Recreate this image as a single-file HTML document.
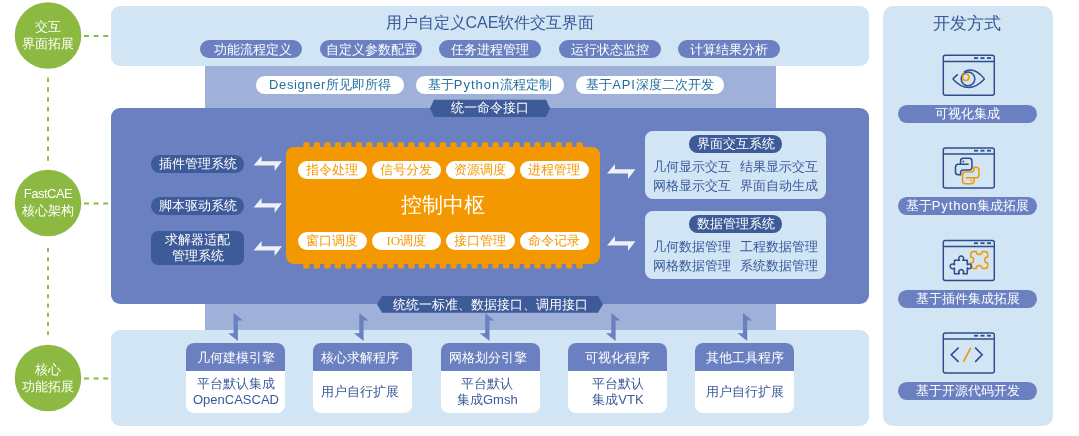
<!DOCTYPE html><html><head><meta charset="utf-8"><style>
html,body{margin:0;padding:0;background:#fff;}
body{width:1079px;height:436px;position:relative;overflow:hidden;font-family:"Liberation Sans",sans-serif;}
.t{position:absolute;text-align:center;white-space:nowrap;will-change:transform;}
svg{position:absolute;left:0;top:0;}
</style></head><body>
<div style="position:absolute;left:111px;top:5.5px;width:758px;height:60.5px;background:#d1e5f5;border-radius:9px;"></div>
<div style="position:absolute;left:205px;top:66px;width:570.5px;height:42px;background:#9fb1d8;border-radius:0px;"></div>
<div style="position:absolute;left:111px;top:108px;width:758px;height:196.3px;background:#6a80c1;border-radius:9px;"></div>
<div style="position:absolute;left:205px;top:304px;width:570.5px;height:26px;background:#9fb1d8;border-radius:0px;"></div>
<div style="position:absolute;left:111px;top:330px;width:758px;height:96px;background:#d1e5f5;border-radius:9px;"></div>
<div style="position:absolute;left:883px;top:5.5px;width:170px;height:420px;background:#d1e5f5;border-radius:10px;"></div>
<div class="t" style="left:111px;top:8px;width:758px;height:30px;line-height:30px;font-size:16px;color:#3a5998;">用户自定义CAE软件交互界面</div>
<div class="t" style="left:200.0px;top:40px;width:102px;height:18px;line-height:18px;font-size:13px;color:#fff;background:#6a80c1;border-radius:9.0px;line-height:20px;text-indent:4px;">功能流程定义</div>
<div class="t" style="left:319.5px;top:40px;width:102px;height:18px;line-height:18px;font-size:13px;color:#fff;background:#6a80c1;border-radius:9.0px;line-height:20px;">自定义参数配置</div>
<div class="t" style="left:439.0px;top:40px;width:102px;height:18px;line-height:18px;font-size:13px;color:#fff;background:#6a80c1;border-radius:9.0px;line-height:20px;">任务进程管理</div>
<div class="t" style="left:558.5px;top:40px;width:102px;height:18px;line-height:18px;font-size:13px;color:#fff;background:#6a80c1;border-radius:9.0px;line-height:20px;">运行状态监控</div>
<div class="t" style="left:678.0px;top:40px;width:102px;height:18px;line-height:18px;font-size:13px;color:#fff;background:#6a80c1;border-radius:9.0px;line-height:20px;">计算结果分析</div>
<div class="t" style="left:256px;top:75.5px;width:148px;height:17.7px;line-height:17.7px;font-size:13px;color:#1f6fa0;background:#fff;border-radius:8.85px;"><span style="letter-spacing:0.6px">Designer</span>所见即所得</div>
<div class="t" style="left:416px;top:75.5px;width:148px;height:17.7px;line-height:17.7px;font-size:13px;color:#1f6fa0;background:#fff;border-radius:8.85px;">基于<span style="letter-spacing:1px">Python</span>流程定制</div>
<div class="t" style="left:576px;top:75.5px;width:148px;height:17.7px;line-height:17.7px;font-size:13px;color:#1f6fa0;background:#fff;border-radius:8.85px;">基于<span style="letter-spacing:0.9px">API</span>深度二次开发</div>
<div class="t" style="left:151px;top:154.6px;width:93px;height:17.5px;line-height:17.5px;font-size:13px;color:#fff;background:#3d5a99;border-radius:8.75px;">插件管理系统</div>
<div class="t" style="left:151px;top:196.5px;width:93px;height:17.8px;line-height:17.8px;font-size:13px;color:#fff;background:#3d5a99;border-radius:8.9px;">脚本驱动系统</div>
<div class="t" style="left:151px;top:231px;width:93px;height:34px;line-height:16px;font-size:13px;color:#fff;background:#3d5a99;border-radius:7px;padding-top:1px;box-sizing:border-box;">求解器适配<br>管理系统</div>
<div style="position:absolute;left:645.2px;top:131px;width:181px;height:68px;background:#d1e5f5;border-radius:8px;"></div>
<div class="t" style="left:689.2px;top:135.1px;width:93px;height:17.6px;line-height:17.6px;font-size:13px;color:#fff;background:#3d5a99;border-radius:8.8px;">界面交互系统</div>
<div class="t" style="left:650px;top:157px;width:84px;height:19px;line-height:19px;font-size:13px;color:#3a5998;">几何显示交互</div>
<div class="t" style="left:737px;top:157px;width:84px;height:19px;line-height:19px;font-size:13px;color:#3a5998;">结果显示交互</div>
<div class="t" style="left:650px;top:175.5px;width:84px;height:19px;line-height:19px;font-size:13px;color:#3a5998;">网格显示交互</div>
<div class="t" style="left:737px;top:175.5px;width:84px;height:19px;line-height:19px;font-size:13px;color:#3a5998;">界面自动生成</div>
<div style="position:absolute;left:645.2px;top:211px;width:181px;height:68px;background:#d1e5f5;border-radius:8px;"></div>
<div class="t" style="left:689.2px;top:215.1px;width:93px;height:17.6px;line-height:17.6px;font-size:13px;color:#fff;background:#3d5a99;border-radius:8.8px;">数据管理系统</div>
<div class="t" style="left:650px;top:237px;width:84px;height:19px;line-height:19px;font-size:13px;color:#3a5998;">几何数据管理</div>
<div class="t" style="left:737px;top:237px;width:84px;height:19px;line-height:19px;font-size:13px;color:#3a5998;">工程数据管理</div>
<div class="t" style="left:650px;top:255.5px;width:84px;height:19px;line-height:19px;font-size:13px;color:#3a5998;">网格数据管理</div>
<div class="t" style="left:737px;top:255.5px;width:84px;height:19px;line-height:19px;font-size:13px;color:#3a5998;">系统数据管理</div>
<svg width="1079" height="436" viewBox="0 0 1079 436">
<g stroke="#8cb941" stroke-width="1.9" fill="none">
<line x1="48" y1="77.5" x2="48" y2="161" stroke-dasharray="4.5 5.35"/>
<line x1="48" y1="248" x2="48" y2="335" stroke-dasharray="4 5.26"/>
</g>
<g stroke="#8cb941" stroke-width="1.9" stroke-dasharray="5 4.6" fill="none">
<line x1="84" y1="36" x2="110" y2="36"/>
<line x1="84" y1="203.5" x2="110" y2="203.5"/>
<line x1="84" y1="378.5" x2="110" y2="378.5"/>
</g>
<circle cx="48" cy="35.5" r="33.3" fill="#8cb941"/>
<circle cx="48" cy="203" r="33.3" fill="#8cb941"/>
<circle cx="48" cy="378" r="33.3" fill="#8cb941"/>
<polygon fill="#3d5a99" points="430,108.35 434,99.8 546,99.8 550,108.35 546,116.9 434,116.9"/>
<polygon fill="#3d5a99" points="377,304.35 382,296 598,296 603,304.35 598,312.7 382,312.7"/>
<polygon fill="#eef1f8" points="253.6,165.5 261.6,156.0 261.6,161.3 282.0,161.3 274.6,171.0 274.6,165.5"/>
<polygon fill="#eef1f8" points="253.6,207.5 261.6,198.0 261.6,203.3 282.0,203.3 274.6,213.0 274.6,207.5"/>
<polygon fill="#eef1f8" points="253.6,250.5 261.6,241.0 261.6,246.3 282.0,246.3 274.6,256.0 274.6,250.5"/>
<polygon fill="#eef1f8" points="607.0,173.5 615.0,164.0 615.0,169.3 635.4,169.3 628.0,179.0 628.0,173.5"/>
<polygon fill="#eef1f8" points="607.0,245.5 615.0,236.0 615.0,241.3 635.4,241.3 628.0,251.0 628.0,245.5"/>
<polygon fill="#6a80c1" points="233.6,313.0 242.9,320.6 237.9,320.6 237.9,341.0 228.2,333.3 233.6,333.3"/>
<polygon fill="#6a80c1" points="359.3,313.0 368.6,320.6 363.6,320.6 363.6,341.0 353.9,333.3 359.3,333.3"/>
<polygon fill="#6a80c1" points="485.2,313.0 494.5,320.6 489.5,320.6 489.5,341.0 479.8,333.3 485.2,333.3"/>
<polygon fill="#6a80c1" points="611.3,313.0 620.6,320.6 615.6,320.6 615.6,341.0 605.9,333.3 611.3,333.3"/>
<polygon fill="#6a80c1" points="742.9,313.0 752.2,320.6 747.2,320.6 747.2,341.0 737.5,333.3 742.9,333.3"/>
<rect x="286" y="147" width="314" height="117" rx="8" fill="#f39800"/>
<rect x="303.20" y="142.2" width="6.3" height="8" rx="1.5" fill="#f39800"/>
<rect x="303.20" y="260.5" width="6.3" height="8" rx="1.5" fill="#f39800"/>
<rect x="313.71" y="142.2" width="6.3" height="8" rx="1.5" fill="#f39800"/>
<rect x="313.71" y="260.5" width="6.3" height="8" rx="1.5" fill="#f39800"/>
<rect x="324.22" y="142.2" width="6.3" height="8" rx="1.5" fill="#f39800"/>
<rect x="324.22" y="260.5" width="6.3" height="8" rx="1.5" fill="#f39800"/>
<rect x="334.72" y="142.2" width="6.3" height="8" rx="1.5" fill="#f39800"/>
<rect x="334.72" y="260.5" width="6.3" height="8" rx="1.5" fill="#f39800"/>
<rect x="345.23" y="142.2" width="6.3" height="8" rx="1.5" fill="#f39800"/>
<rect x="345.23" y="260.5" width="6.3" height="8" rx="1.5" fill="#f39800"/>
<rect x="355.74" y="142.2" width="6.3" height="8" rx="1.5" fill="#f39800"/>
<rect x="355.74" y="260.5" width="6.3" height="8" rx="1.5" fill="#f39800"/>
<rect x="366.25" y="142.2" width="6.3" height="8" rx="1.5" fill="#f39800"/>
<rect x="366.25" y="260.5" width="6.3" height="8" rx="1.5" fill="#f39800"/>
<rect x="376.76" y="142.2" width="6.3" height="8" rx="1.5" fill="#f39800"/>
<rect x="376.76" y="260.5" width="6.3" height="8" rx="1.5" fill="#f39800"/>
<rect x="387.26" y="142.2" width="6.3" height="8" rx="1.5" fill="#f39800"/>
<rect x="387.26" y="260.5" width="6.3" height="8" rx="1.5" fill="#f39800"/>
<rect x="397.77" y="142.2" width="6.3" height="8" rx="1.5" fill="#f39800"/>
<rect x="397.77" y="260.5" width="6.3" height="8" rx="1.5" fill="#f39800"/>
<rect x="408.28" y="142.2" width="6.3" height="8" rx="1.5" fill="#f39800"/>
<rect x="408.28" y="260.5" width="6.3" height="8" rx="1.5" fill="#f39800"/>
<rect x="418.79" y="142.2" width="6.3" height="8" rx="1.5" fill="#f39800"/>
<rect x="418.79" y="260.5" width="6.3" height="8" rx="1.5" fill="#f39800"/>
<rect x="429.30" y="142.2" width="6.3" height="8" rx="1.5" fill="#f39800"/>
<rect x="429.30" y="260.5" width="6.3" height="8" rx="1.5" fill="#f39800"/>
<rect x="439.80" y="142.2" width="6.3" height="8" rx="1.5" fill="#f39800"/>
<rect x="439.80" y="260.5" width="6.3" height="8" rx="1.5" fill="#f39800"/>
<rect x="450.31" y="142.2" width="6.3" height="8" rx="1.5" fill="#f39800"/>
<rect x="450.31" y="260.5" width="6.3" height="8" rx="1.5" fill="#f39800"/>
<rect x="460.82" y="142.2" width="6.3" height="8" rx="1.5" fill="#f39800"/>
<rect x="460.82" y="260.5" width="6.3" height="8" rx="1.5" fill="#f39800"/>
<rect x="471.33" y="142.2" width="6.3" height="8" rx="1.5" fill="#f39800"/>
<rect x="471.33" y="260.5" width="6.3" height="8" rx="1.5" fill="#f39800"/>
<rect x="481.84" y="142.2" width="6.3" height="8" rx="1.5" fill="#f39800"/>
<rect x="481.84" y="260.5" width="6.3" height="8" rx="1.5" fill="#f39800"/>
<rect x="492.34" y="142.2" width="6.3" height="8" rx="1.5" fill="#f39800"/>
<rect x="492.34" y="260.5" width="6.3" height="8" rx="1.5" fill="#f39800"/>
<rect x="502.85" y="142.2" width="6.3" height="8" rx="1.5" fill="#f39800"/>
<rect x="502.85" y="260.5" width="6.3" height="8" rx="1.5" fill="#f39800"/>
<rect x="513.36" y="142.2" width="6.3" height="8" rx="1.5" fill="#f39800"/>
<rect x="513.36" y="260.5" width="6.3" height="8" rx="1.5" fill="#f39800"/>
<rect x="523.87" y="142.2" width="6.3" height="8" rx="1.5" fill="#f39800"/>
<rect x="523.87" y="260.5" width="6.3" height="8" rx="1.5" fill="#f39800"/>
<rect x="534.38" y="142.2" width="6.3" height="8" rx="1.5" fill="#f39800"/>
<rect x="534.38" y="260.5" width="6.3" height="8" rx="1.5" fill="#f39800"/>
<rect x="544.88" y="142.2" width="6.3" height="8" rx="1.5" fill="#f39800"/>
<rect x="544.88" y="260.5" width="6.3" height="8" rx="1.5" fill="#f39800"/>
<rect x="555.39" y="142.2" width="6.3" height="8" rx="1.5" fill="#f39800"/>
<rect x="555.39" y="260.5" width="6.3" height="8" rx="1.5" fill="#f39800"/>
<rect x="565.90" y="142.2" width="6.3" height="8" rx="1.5" fill="#f39800"/>
<rect x="565.90" y="260.5" width="6.3" height="8" rx="1.5" fill="#f39800"/>
<rect x="576.41" y="142.2" width="6.3" height="8" rx="1.5" fill="#f39800"/>
<rect x="576.41" y="260.5" width="6.3" height="8" rx="1.5" fill="#f39800"/>
</svg>
<div class="t" style="left:15px;top:19px;width:66px;font-size:13px;line-height:16.5px;color:#fff">交互<br>界面拓展</div>
<div class="t" style="left:15px;top:186px;width:66px;font-size:13px;line-height:16.5px;color:#fff"><span style="letter-spacing:-0.5px">FastCAE</span><br>核心架构</div>
<div class="t" style="left:15px;top:362px;width:66px;font-size:13px;line-height:16.5px;color:#fff">核心<br>功能拓展</div>
<div class="t" style="left:430px;top:98.8px;width:120px;height:17px;line-height:17px;font-size:13px;color:#fff;">统一命令接口</div>
<div class="t" style="left:377px;top:296px;width:226px;height:17px;line-height:17px;font-size:13px;color:#fff;">统统一标准、数据接口、调用接口</div>
<div class="t" style="left:297.5px;top:161px;width:68.5px;height:18px;line-height:18px;font-size:13px;color:#f39800;background:#fff;border-radius:9.0px;">指令处理</div>
<div class="t" style="left:371.7px;top:161px;width:68.5px;height:18px;line-height:18px;font-size:13px;color:#f39800;background:#fff;border-radius:9.0px;">信号分发</div>
<div class="t" style="left:445.9px;top:161px;width:68.5px;height:18px;line-height:18px;font-size:13px;color:#f39800;background:#fff;border-radius:9.0px;">资源调度</div>
<div class="t" style="left:520.1px;top:161px;width:68.5px;height:18px;line-height:18px;font-size:13px;color:#f39800;background:#fff;border-radius:9.0px;">进程管理</div>
<div class="t" style="left:297.5px;top:232px;width:68.5px;height:18px;line-height:18px;font-size:13px;color:#f39800;background:#fff;border-radius:9.0px;">窗口调度</div>
<div class="t" style="left:371.7px;top:232px;width:68.5px;height:18px;line-height:18px;font-size:13px;color:#f39800;background:#fff;border-radius:9.0px;"><span style="font-family:Liberation Serif">IO</span>调度</div>
<div class="t" style="left:445.9px;top:232px;width:68.5px;height:18px;line-height:18px;font-size:13px;color:#f39800;background:#fff;border-radius:9.0px;">接口管理</div>
<div class="t" style="left:520.1px;top:232px;width:68.5px;height:18px;line-height:18px;font-size:13px;color:#f39800;background:#fff;border-radius:9.0px;">命令记录</div>
<div class="t" style="left:286px;top:190px;width:314px;height:30px;line-height:30px;font-size:21px;color:#fff;">控制中枢</div>
<div style="position:absolute;left:186px;top:342.5px;width:99px;height:70px;background:#fff;border-radius:8px;overflow:hidden"><div style="height:28.5px;background:#6a80c1;"><div style="color:#fff;font-size:13px;line-height:30.5px;text-align:center;text-indent:0px;will-change:transform">几何建模引擎</div></div><div style="position:absolute;left:0;top:28.5px;width:99px;height:41.5px;display:flex;align-items:center;justify-content:center;text-align:center;color:#3a5998;font-size:13px;line-height:16px"><div style="position:relative;left:0px;will-change:transform">平台默认集成<br>OpenCASCAD</div></div></div>
<div style="position:absolute;left:313.3px;top:342.5px;width:99px;height:70px;background:#fff;border-radius:8px;overflow:hidden"><div style="height:28.5px;background:#6a80c1;"><div style="color:#fff;font-size:13px;line-height:30.5px;text-align:center;text-indent:-6px;will-change:transform">核心求解程序</div></div><div style="position:absolute;left:0;top:28.5px;width:99px;height:41.5px;display:flex;align-items:center;justify-content:center;text-align:center;color:#3a5998;font-size:13px;line-height:16px"><div style="position:relative;left:-3px;will-change:transform">用户自行扩展</div></div></div>
<div style="position:absolute;left:440.8px;top:342.5px;width:99px;height:70px;background:#fff;border-radius:8px;overflow:hidden"><div style="height:28.5px;background:#6a80c1;"><div style="color:#fff;font-size:13px;line-height:30.5px;text-align:center;text-indent:-5.0px;will-change:transform">网格划分引擎</div></div><div style="position:absolute;left:0;top:28.5px;width:99px;height:41.5px;display:flex;align-items:center;justify-content:center;text-align:center;color:#3a5998;font-size:13px;line-height:16px"><div style="position:relative;left:-2.5px;will-change:transform">平台默认<br>集成Gmsh</div></div></div>
<div style="position:absolute;left:568.1px;top:342.5px;width:99px;height:70px;background:#fff;border-radius:8px;overflow:hidden"><div style="height:28.5px;background:#6a80c1;"><div style="color:#fff;font-size:13px;line-height:30.5px;text-align:center;text-indent:0px;will-change:transform">可视化程序</div></div><div style="position:absolute;left:0;top:28.5px;width:99px;height:41.5px;display:flex;align-items:center;justify-content:center;text-align:center;color:#3a5998;font-size:13px;line-height:16px"><div style="position:relative;left:0px;will-change:transform">平台默认<br>集成VTK</div></div></div>
<div style="position:absolute;left:695px;top:342.5px;width:99px;height:70px;background:#fff;border-radius:8px;overflow:hidden"><div style="height:28.5px;background:#6a80c1;"><div style="color:#fff;font-size:13px;line-height:30.5px;text-align:center;text-indent:0px;will-change:transform">其他工具程序</div></div><div style="position:absolute;left:0;top:28.5px;width:99px;height:41.5px;display:flex;align-items:center;justify-content:center;text-align:center;color:#3a5998;font-size:13px;line-height:16px"><div style="position:relative;left:0px;will-change:transform">用户自行扩展</div></div></div>
<div class="t" style="left:882px;top:8px;width:170px;height:30px;line-height:30px;font-size:16.5px;color:#3a5998;">开发方式</div>
<div class="t" style="left:898.3px;top:104.6px;width:139.2px;height:17.8px;line-height:17.8px;font-size:13px;color:#fff;background:#6a80c1;border-radius:8.9px;">可视化集成</div>
<div class="t" style="left:898.3px;top:197.1px;width:139.2px;height:17.8px;line-height:17.8px;font-size:13px;color:#fff;background:#6a80c1;border-radius:8.9px;">基于<span style="letter-spacing:0.85px">Python</span>集成拓展</div>
<div class="t" style="left:898.3px;top:289.6px;width:139.2px;height:17.8px;line-height:17.8px;font-size:13px;color:#fff;background:#6a80c1;border-radius:8.9px;">基于插件集成拓展</div>
<div class="t" style="left:898.3px;top:382.1px;width:139.2px;height:17.8px;line-height:17.8px;font-size:13px;color:#fff;background:#6a80c1;border-radius:8.9px;">基于开源代码开发</div>
<svg width="1079" height="436" viewBox="0 0 1079 436">
<g fill="none" stroke="#2f4c8c" stroke-width="1.45"><rect x="943.3" y="55.3" width="51" height="40" rx="2"/><line x1="943.3" y1="61.4" x2="994.3" y2="61.4"/></g><g stroke="#2f4c8c" stroke-width="1.8"><line x1="974" y1="58.1" x2="978" y2="58.1"/><line x1="980.5" y1="58.1" x2="984.5" y2="58.1"/><line x1="987" y1="58.1" x2="991" y2="58.1"/></g>
<g fill="none" stroke="#2f4c8c" stroke-width="1.45"><rect x="943.3" y="147.9" width="51" height="40" rx="2"/><line x1="943.3" y1="154.0" x2="994.3" y2="154.0"/></g><g stroke="#2f4c8c" stroke-width="1.8"><line x1="974" y1="150.7" x2="978" y2="150.7"/><line x1="980.5" y1="150.7" x2="984.5" y2="150.7"/><line x1="987" y1="150.7" x2="991" y2="150.7"/></g>
<g fill="none" stroke="#2f4c8c" stroke-width="1.45"><rect x="943.3" y="240.4" width="51" height="40" rx="2"/><line x1="943.3" y1="246.5" x2="994.3" y2="246.5"/></g><g stroke="#2f4c8c" stroke-width="1.8"><line x1="974" y1="243.2" x2="978" y2="243.2"/><line x1="980.5" y1="243.2" x2="984.5" y2="243.2"/><line x1="987" y1="243.2" x2="991" y2="243.2"/></g>
<g fill="none" stroke="#2f4c8c" stroke-width="1.45"><rect x="943.3" y="332.90000000000003" width="51" height="40" rx="2"/><line x1="943.3" y1="339.0" x2="994.3" y2="339.0"/></g><g stroke="#2f4c8c" stroke-width="1.8"><line x1="974" y1="335.70000000000005" x2="978" y2="335.70000000000005"/><line x1="980.5" y1="335.70000000000005" x2="984.5" y2="335.70000000000005"/><line x1="987" y1="335.70000000000005" x2="991" y2="335.70000000000005"/></g>
<g fill="none" stroke="#2f4c8c" stroke-width="1.5"><path d="M952.8 78.9 Q968.5 96 984.5 78.9"/><path d="M984.5 78.9 Q974 66 964 71.8"/><path d="M952.8 78.9 L957.7 74.4"/><circle cx="968" cy="78.9" r="6.8"/></g><circle cx="965.8" cy="77.3" r="3.2" fill="none" stroke="#f39800" stroke-width="1.5"/>
<g transform="translate(967.25 171)"><path d="M1.4 -6.8 L-9 -6.8 Q-11.75 -6.8 -11.75 -4 L-11.75 1 Q-11.75 3.8 -9 3.8 L-6.7 3.8 L-6.7 1.8 Q-6.7 -1 -4 -1 L2 -1 Q4.7 -1 4.7 -3.7 L4.7 -10 Q4.7 -12.7 2 -12.7 L-4 -12.7 Q-6.7 -12.7 -6.7 -10 L-6.7 -6.8" fill="none" stroke="#2f4c8c" stroke-width="1.5"/><circle cx="-4" cy="-9.5" r="0.9" fill="#2f4c8c"/><g transform="rotate(180)"><path d="M1.4 -6.8 L-9 -6.8 Q-11.75 -6.8 -11.75 -4 L-11.75 1 Q-11.75 3.8 -9 3.8 L-6.7 3.8 L-6.7 1.8 Q-6.7 -1 -4 -1 L2 -1 Q4.7 -1 4.7 -3.7 L4.7 -10 Q4.7 -12.7 2 -12.7 L-4 -12.7 Q-6.7 -12.7 -6.7 -10 L-6.7 -6.8" fill="none" stroke="#f39800" stroke-width="1.5"/><circle cx="-4" cy="-9.5" r="0.9" fill="#f39800"/></g></g>
<g transform="translate(979.2 260)"><path fill="none" stroke="#f39800" stroke-width="1.5" stroke-linejoin="round" d="M-8.5 -5.5 A3 3 0 0 1 -5.5 -8.5 L-3 -8.5 A3 3 0 0 0 3 -8.5 L5.5 -8.5 A3 3 0 0 1 8.5 -5.5 L8.5 -3 A3 3 0 0 0 8.5 3 L8.5 5.5 A3 3 0 0 1 5.5 8.5 L3 8.5 A3 3 0 0 0 -3 8.5 L-5.5 8.5 A3 3 0 0 1 -8.5 5.5 L-8.5 3 A3 3 0 0 0 -8.5 -3 Z"/></g>
<path fill="none" stroke="#2f4c8c" stroke-width="1.5" stroke-linejoin="round" d="M954.4 260.2 L959.6 260.2 A2.4 2.4 0 1 1 962.8 260.2 L967.3 260.2 L967.3 264.7 A2.4 2.4 0 1 1 967.3 267.9 L967.3 273.7 L963 273.7 A2.4 2.4 0 1 0 959.4 273.7 L954.4 273.7 L954.4 267.9 A2.4 2.4 0 1 1 954.4 264.7 Z"/>
<g fill="none" stroke="#2f4c8c" stroke-width="1.6"><polyline points="958.6,347.6 951.2,354.8 958.6,361.9"/><polyline points="975.2,347.6 982.1,354.8 975.2,361.9"/></g><line x1="970.7" y1="347.9" x2="963.4" y2="361.9" stroke="#f39800" stroke-width="1.6"/>
</svg>
</body></html>
